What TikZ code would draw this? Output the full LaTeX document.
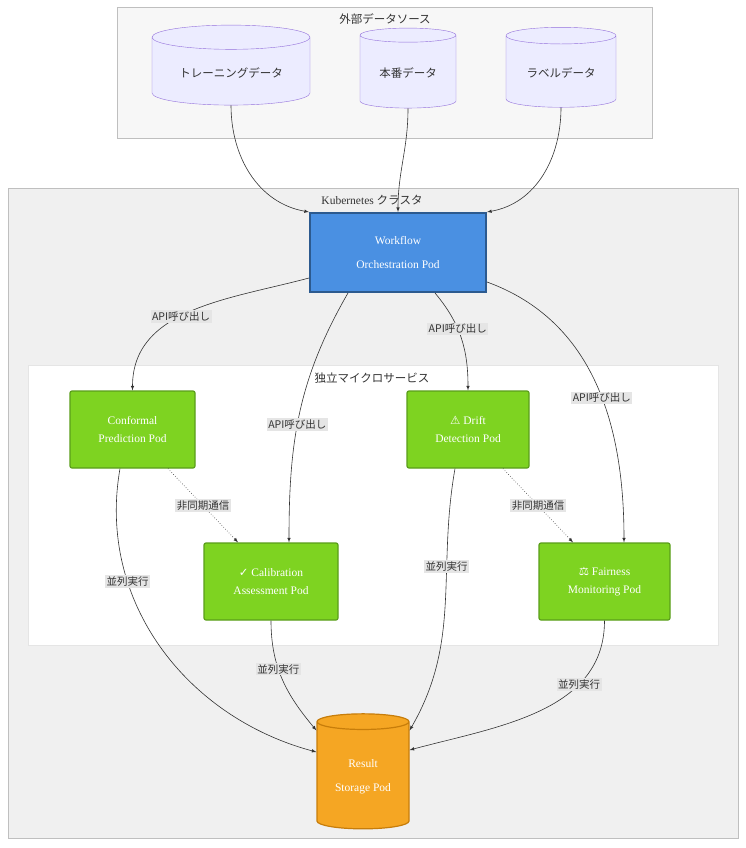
\documentclass[tikz,border=0pt]{standalone}
\usepackage{fontspec}
\setmainfont{Liberation Serif}
\newfontfamily\jp{Noto Sans CJK JP}
\newfontfamily\sym{DejaVu Sans}
\usetikzlibrary{shapes.geometric,positioning}
\definecolor{dbfill}{HTML}{ECECFF}
\definecolor{dbline}{HTML}{9370DB}
\definecolor{podgreen}{HTML}{7ED321}
\definecolor{podline}{HTML}{5A9E1A}
\definecolor{wfblue}{HTML}{4A90E2}
\definecolor{wfline}{HTML}{2C5A8F}
\definecolor{resorange}{HTML}{F5A623}
\definecolor{resline}{HTML}{C77D0A}
\tikzset{
  datasrc/.style={cylinder, shape border rotate=90, aspect=0.22, draw=dbline, fill=dbfill,
    font=\jp\fontsize{11.5}{13}\selectfont, text=black!80},
  pod/.style={draw=podline, fill=podgreen, rounded corners=2pt, line width=1.2pt,
    text=white, align=center, font=\fontsize{11.5}{18}\selectfont},
  lbl/.style={fill=black!10, inner sep=1.5pt, font=\jp\fontsize{10.5}{12}\selectfont, text=black!80},
  conn/.style={-latex, black!80, line width=0.6pt},
  async/.style={conn, dotted},
  grp/.style={draw=black!25, line width=1pt},
}
\begin{document}
\begin{tikzpicture}[x=1pt,y=-1pt]
		\useasboundingbox (0,0) rectangle (746,848);
		% groups
		\draw[grp, fill=black!3] (117,8) rectangle (652,138);
		\node[font=\jp\fontsize{11.5}{13}\selectfont, text=black!80] (extTitle) at (385,19) {外部データソース};
		\draw[grp, fill=black!6] (8,188) rectangle (738,838);
		\node[font=\fontsize{11.5}{13}\selectfont, text=black!80] (k8sTitle) at (372,200) {Kubernetes {\jp クラスタ}};
		\draw[draw=black!10, fill=white] (28,365) rectangle (718,645);
		\node[font=\jp\fontsize{11.5}{13}\selectfont, text=black!80] (svcTitle) at (372,378) {独立マイクロサービス};
		% data sources
		\node[datasrc, minimum width=158pt, minimum height=80pt] (train) at (231,73) {トレーニングデータ};
		\node[datasrc, minimum width=96pt, minimum height=80pt] (prod) at (408,73) {本番データ};
		\node[datasrc, minimum width=110pt, minimum height=80pt] (label) at (561,73) {ラベルデータ};
		% pods
		\node[draw=wfline, fill=wfblue, line width=2pt, text=white, align=center,
			font=\fontsize{11.5}{24}\selectfont, minimum width=176pt, minimum height=79pt] (wf) at (398,252.5)
			{Workflow\\Orchestration Pod};
		\node[pod, minimum width=125pt, minimum height=77pt] (conf) at (132.5,429.5) {Conformal\\Prediction Pod};
		\node[pod, minimum width=122pt, minimum height=77pt] (drift) at (468,429.5) {{\sym ⚠} Drift\\Detection Pod};
		\node[pod, minimum width=134pt, minimum height=77pt] (calib) at (271,581.5) {{\sym ✓} Calibration\\Assessment Pod};
		\node[pod, minimum width=131pt, minimum height=77pt] (fair) at (604.5,581.5) {{\sym ⚖} Fairness\\Monitoring Pod};
		\node[cylinder, shape border rotate=90, aspect=0.25, draw=resline, fill=resorange, line width=1.2pt,
			text=white, align=center, font=\fontsize{11.5}{24}\selectfont,
			minimum width=92pt, minimum height=115pt] (res) at (363,777) {Result\\Storage Pod};
		% data flow
		\draw[conn] (train.bottom) to[out=-90, in=170] (wf.north west);
		\draw[conn] (prod.bottom) to[out=-90, in=90] (wf.north);
		\draw[conn] (label.bottom) to[out=-90, in=10] (wf.north east);
		\draw[conn] (wf.south west |- 0,278) to[out=195, in=90] node[lbl, pos=0.55] {API呼び出し} (conf.north);
		\draw[conn] (wf.south -| 348,0) to[out=-120, in=90] node[lbl, pos=0.55] {API呼び出し} (calib.north -| 289,0);
		\draw[conn] (wf.south -| 435,0) to[out=-50, in=90] node[lbl, pos=0.4] {API呼び出し} (drift.north);
		\draw[conn] (wf.south east |- 0,282) to[out=-20, in=90] node[lbl, pos=0.55] {API呼び出し} (fair.north -| 624,0);
		\draw[async] (conf.south -| 168,0) -- node[lbl] {非同期通信} (calib.north -| 238,0);
		\draw[async] (drift.south -| 503,0) -- node[lbl] {非同期通信} (fair.north -| 573,0);
		\draw[conn] (conf.south -| 120,0) to[out=-100, in=165] node[lbl, pos=0.3] {並列実行} (res.west |- 0,752);
		\draw[conn] (calib.south) to[out=-90, in=130] node[lbl, pos=0.4] {並列実行} (res.north west);
		\draw[conn] (drift.south -| 455,0) to[out=-100, in=60] node[lbl, pos=0.35] {並列実行} (res.north east);
		\draw[conn] (fair.south) to[out=-90, in=15] node[lbl, pos=0.3] {並列実行} (res.east |- 0,750);
	\end{tikzpicture}
\end{document}
